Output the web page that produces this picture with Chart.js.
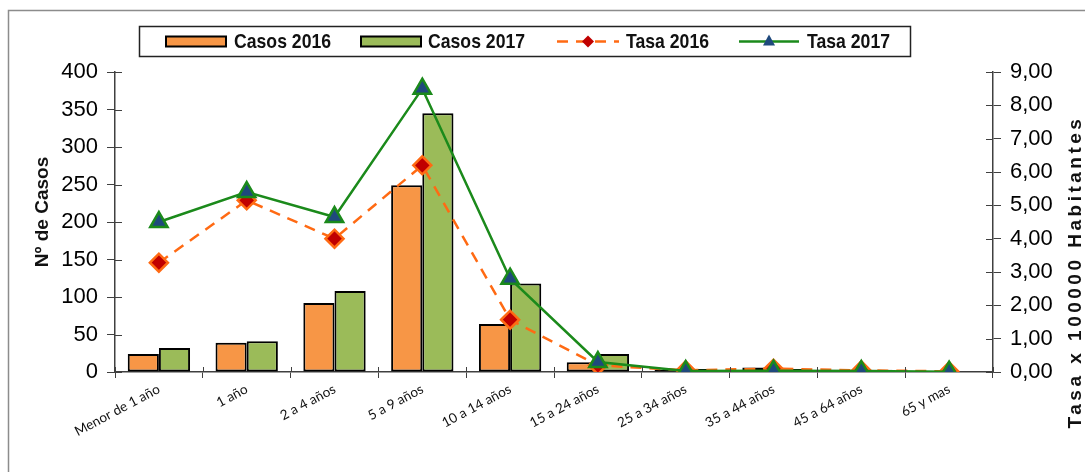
<!DOCTYPE html>
<html>
<head>
<meta charset="utf-8">
<script src="https://cdn.jsdelivr.net/npm/chart.js@4.4.1/dist/chart.umd.min.js"></script>
<style>
html,body{margin:0;padding:0;background:#fff;}
#wrap{width:1085px;height:472px;position:relative;}
</style>
</head>
<body>
<div id="wrap"><canvas id="c" width="1085" height="472"></canvas></div>
<script>
const categories = ['Menor de 1 año','1 año','2 a 4 años','5 a 9 años','10 a 14 años','15 a 24 años','25 a 34 años','35 a 44 años','45 a 64 años','65 y mas'];
const casos2016 = [24, 39, 92, 249, 64, 13, 3, 6, 3, 1];
const casos2017 = [32, 41, 108, 345, 118, 24, 4, 4, 3, 1];
const tasa2016 = [3.28, 5.15, 4.00, 6.20, 1.57, 0.20, 0.05, 0.10, 0.05, 0.02];
const tasa2017 = [4.50, 5.40, 4.65, 8.50, 2.80, 0.30, 0.03, 0.04, 0.03, 0.01];
const leftTicks = [0, 50, 100, 150, 200, 250, 300, 350, 400];
const rightTicks = [0, 1, 2, 3, 4, 5, 6, 7, 8, 9];
const seriesNames = ['Casos 2016', 'Casos 2017', 'Tasa 2016', 'Tasa 2017'];
const axisTitles = ['Nº de Casos', 'Tasa x 100000 Habitantes'];

const SANS = "'Liberation Sans',Arial,sans-serif";

const C_OR = '#F79646', C_GR = '#9BBB59', C_LOR = '#FF6A13', C_DRED = '#C00000', C_LGR = '#1B8A1B', C_NAVY = '#1F497D';
const AXIS = '#404040';

function narrowText(ctx, text, x, y, sx) {
  ctx.save();
  ctx.translate(x, y);
  ctx.scale(sx, 1);
  ctx.fillText(text, 0, 0);
  ctx.restore();
}

const decor = {
  id: 'decor',
  beforeDraw(chart) {
    const ctx = chart.ctx;
    ctx.save();
    ctx.strokeStyle = '#8c8c8c';
    ctx.lineWidth = 1.5;
    ctx.beginPath();
    ctx.moveTo(8.5, 480);
    ctx.lineTo(8.5, 10.5);
    ctx.lineTo(1100, 10.5);
    ctx.stroke();
    ctx.restore();
  },
  afterDraw(chart) {
    const ctx = chart.ctx;
    const ds = chart.data.datasets;
    const ca = chart.chartArea;
    ctx.save();
    // inner halves of cross tick marks
    ctx.strokeStyle = AXIS; ctx.lineWidth = 1;
    const yL = chart.scales.y, yR = chart.scales.y1;
    ctx.beginPath();
    yL.ticks.forEach((t, i) => { const p = Math.round(yL.getPixelForTick(i)) + 0.5; ctx.moveTo(ca.left, p); ctx.lineTo(ca.left + 7, p); });
    yR.ticks.forEach((t, i) => { const p = Math.round(yR.getPixelForTick(i)) + 0.5; ctx.moveTo(ca.right, p); ctx.lineTo(ca.right - 7, p); });
    for (let i = 0; i <= categories.length; i++) {
      const p = Math.round(ca.left + (ca.right - ca.left) * i / categories.length) + 0.5;
      ctx.moveTo(p, ca.bottom); ctx.lineTo(p, ca.bottom - 5);
    }
    ctx.stroke();

    // axis titles
    ctx.fillStyle = '#111';
    ctx.textAlign = 'center'; ctx.textBaseline = 'middle';
    ctx.font = "bold 19px " + SANS;
    ctx.save();
    ctx.translate(43, (ca.top + ca.bottom) / 2 - 10);
    ctx.rotate(-Math.PI / 2);
    ctx.fillText(axisTitles[0], 0, 0);
    ctx.restore();
    ctx.save();
    ctx.translate(1076, (ca.top + ca.bottom) / 2 + 50);
    ctx.rotate(-Math.PI / 2);
    ctx.font = "bold 19px " + SANS;
    ctx.letterSpacing = '3.5px';
    ctx.fillText(axisTitles[1], 0, 0);
    ctx.restore();

    // legend
    ctx.strokeStyle = '#222'; ctx.lineWidth = 1.5;
    ctx.strokeRect(139.5, 26.5, 771, 30);
    const cy = 41.5;
    ctx.font = "bold 21px " + SANS;
    ctx.textAlign = 'left'; ctx.textBaseline = 'middle';
    const SX = 0.84;
    [[166, 0, 234], [361, 1, 428]].forEach(([sx, di, tx]) => {
      ctx.fillStyle = ds[di].backgroundColor;
      ctx.fillRect(sx, cy - 5, 60, 10);
      ctx.strokeStyle = '#000'; ctx.lineWidth = 2;
      ctx.strokeRect(sx, cy - 5, 60, 10);
      ctx.fillStyle = '#111';
      narrowText(ctx, seriesNames[di], tx, cy + 1, SX);
    });
    // Tasa 2016
    ctx.strokeStyle = ds[2].borderColor; ctx.lineWidth = 2.5;
    ctx.setLineDash([11, 8]);
    ctx.beginPath(); ctx.moveTo(557, cy); ctx.lineTo(619, cy); ctx.stroke();
    ctx.setLineDash([]);
    ctx.fillStyle = ds[2].pointBackgroundColor;
    ctx.beginPath(); ctx.moveTo(588, cy - 6); ctx.lineTo(594, cy); ctx.lineTo(588, cy + 6); ctx.lineTo(582, cy); ctx.closePath(); ctx.fill();
    ctx.fillStyle = '#111';
    narrowText(ctx, seriesNames[2], 626, cy + 1, SX);
    // Tasa 2017
    ctx.strokeStyle = ds[3].borderColor; ctx.lineWidth = 2.5;
    ctx.beginPath(); ctx.moveTo(739, cy); ctx.lineTo(799, cy); ctx.stroke();
    ctx.fillStyle = ds[3].pointBackgroundColor;
    ctx.beginPath(); ctx.moveTo(769, cy - 7); ctx.lineTo(775, cy + 4); ctx.lineTo(763, cy + 4); ctx.closePath(); ctx.fill();
    ctx.fillStyle = '#111';
    narrowText(ctx, seriesNames[3], 807, cy + 1, SX);
    ctx.restore();
  }
};

new Chart(document.getElementById('c'), {
  data: {
    labels: categories,
    datasets: [
      { type: 'bar', label: seriesNames[0], data: casos2016, yAxisID: 'y', backgroundColor: C_OR, borderColor: '#000', borderWidth: 2, borderSkipped: false, order: 2, categoryPercentage: 0.71, barPercentage: 1.0 },
      { type: 'bar', label: seriesNames[1], data: casos2017, yAxisID: 'y', backgroundColor: C_GR, borderColor: '#000', borderWidth: 2, borderSkipped: false, order: 2, categoryPercentage: 0.71, barPercentage: 1.0 },
      { type: 'line', label: seriesNames[2], data: tasa2016, yAxisID: 'y1', borderColor: C_LOR, borderWidth: 2.5, borderDash: [11, 8], pointStyle: 'rectRot', pointRadius: 9, pointBackgroundColor: C_DRED, pointBorderColor: C_LOR, pointBorderWidth: 2.5, tension: 0, order: 1 },
      { type: 'line', label: seriesNames[3], data: tasa2017, yAxisID: 'y1', borderColor: C_LGR, borderWidth: 2.5, pointStyle: 'triangle', pointRadius: 10, pointBackgroundColor: C_NAVY, pointBorderColor: C_LGR, pointBorderWidth: 2.5, tension: 0, order: 0 }
    ]
  },
  options: {
    responsive: false,
    animation: false,
    layout: { padding: { top: 72, left: 0, right: 0, bottom: 0 } },
    plugins: { legend: { display: false }, tooltip: { enabled: false } },
    scales: {
      x: {
        type: 'category',
        offset: true,
        grid: { display: true, offset: true, drawOnChartArea: false, drawTicks: true, tickLength: 6, color: AXIS },
        border: { display: true, color: AXIS, width: 1.5 },
        ticks: { color: '#111', font: { family: "Lato,'Open Sans',sans-serif", size: 13.5 }, minRotation: 28, maxRotation: 28, autoSkip: false, padding: 3 },
        afterFit(s) { s.height = 100; }
      },
      y: {
        position: 'left', min: 0, max: 400,
        afterBuildTicks(s) { s.ticks = leftTicks.map(v => ({ value: v })); },
        grid: { display: true, drawOnChartArea: false, drawTicks: true, tickLength: 8, color: AXIS },
        border: { display: true, color: AXIS, width: 1.5 },
        ticks: { color: '#000', font: { family: SANS, size: 22 }, padding: 9 },
        afterFit(s) { s.width = 115; }
      },
      y1: {
        position: 'right', min: 0, max: 9,
        afterBuildTicks(s) { s.ticks = rightTicks.map(v => ({ value: v })); },
        grid: { display: true, drawOnChartArea: false, drawTicks: true, tickLength: 8, color: AXIS },
        border: { display: true, color: AXIS, width: 1.5 },
        ticks: { color: '#000', font: { family: SANS, size: 22 }, padding: 9, callback: v => Number(v).toFixed(2).replace('.', ',') },
        afterFit(s) { s.width = 92; }
      }
    }
  },
  plugins: [decor]
});
</script>
</body>
</html>
